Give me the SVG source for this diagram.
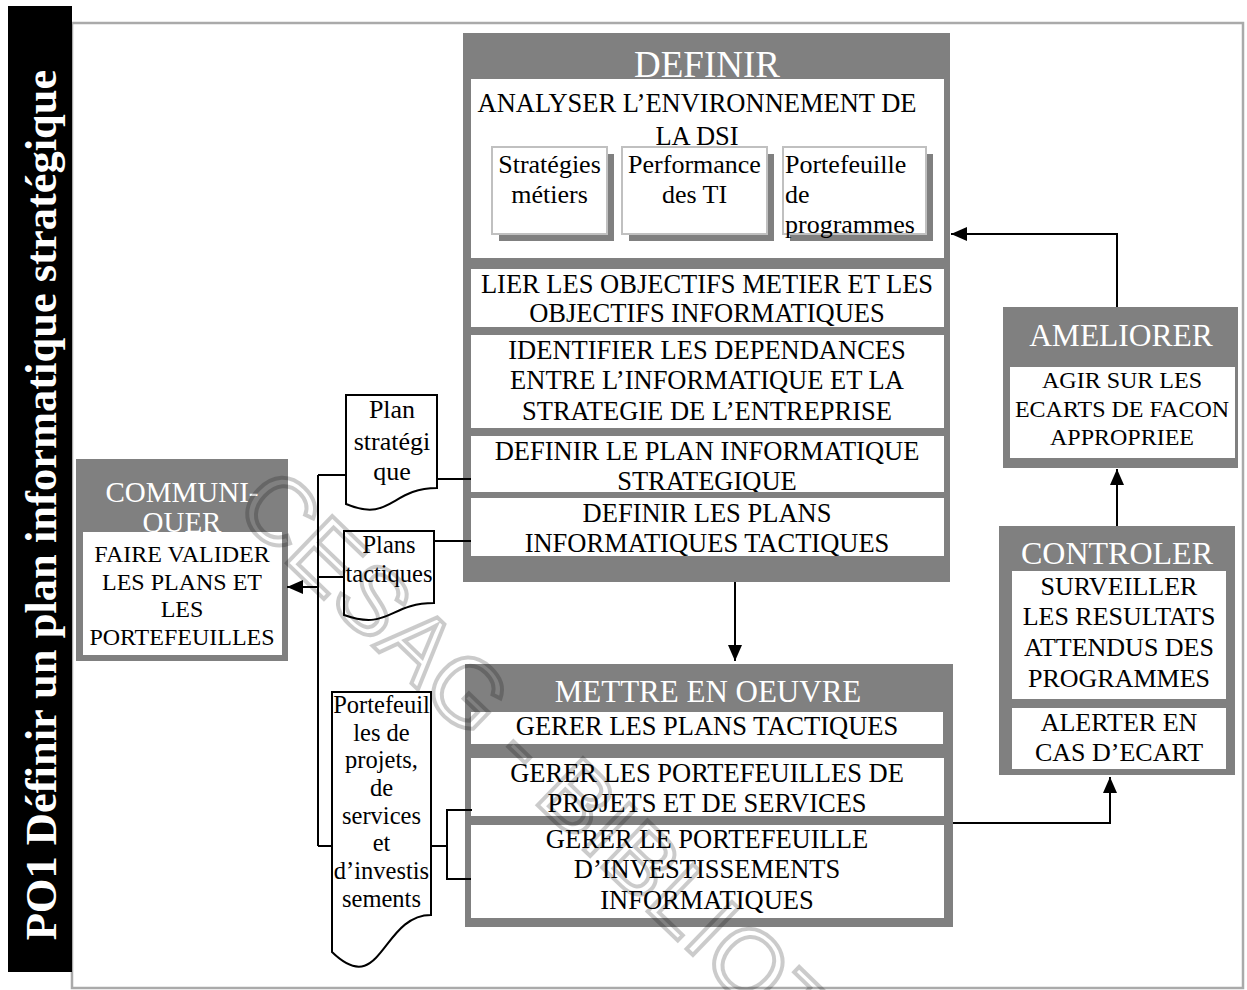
<svg xmlns="http://www.w3.org/2000/svg" width="1247" height="990" viewBox="0 0 1247 990">
  <defs>
    <style>
      .t{font-family:"Liberation Serif","Times New Roman",serif;fill:#000}
      .c{text-anchor:middle}
      .box{fill:#808080}
      .pan{fill:#fff}
      .sub{fill:#fff;stroke:#c0c0c0;stroke-width:2}
      .shd{fill:#808080}
      .ln{fill:none;stroke:#000;stroke-width:2}
      .doc{fill:#fff;stroke:#000;stroke-width:2}
      .f26{font-size:26.5px}
      .f24{font-size:24px}
    </style>
    <marker id="ah" markerUnits="userSpaceOnUse" viewBox="0 0 16 14" markerWidth="16" markerHeight="14" refX="16" refY="7" orient="auto">
      <path d="M0,0 L16,7 L0,14 Z" fill="#000"/>
    </marker>
    <clipPath id="cpB"><rect x="471" y="269" width="473" height="58"/></clipPath>
    <clipPath id="cpC"><rect x="471" y="335" width="473" height="93"/></clipPath>
    <clipPath id="cpD"><rect x="471" y="436" width="473" height="56"/></clipPath>
    <clipPath id="cpE"><rect x="471" y="498" width="473" height="58"/></clipPath>
  </defs>

  <rect width="1247" height="990" fill="#fff"/>

  <!-- page frame and title band -->
  <rect x="72" y="23" width="1171" height="965" fill="none" stroke="#aaaaaa" stroke-width="2.5"/>
  <g id="title">
    <rect x="8" y="6" width="64" height="966" fill="#000"/>
    <text class="t" transform="translate(56,505) rotate(-90)" text-anchor="middle" font-weight="bold" font-size="44.5" style="fill:#fff">PO1 Définir un plan informatique stratégique</text>
  </g>

  <!-- DEFINIR -->
  <g id="definir">
    <rect class="box" x="463" y="33" width="487" height="549"/>
    <text class="t c" x="707" y="77" font-size="37" style="fill:#fff">DEFINIR</text>
    <rect class="pan" x="471" y="79" width="473" height="179"/>
    <text class="t c f26" x="697" y="112">ANALYSER L’ENVIRONNEMENT DE</text>
    <text class="t c f26" x="697" y="145">LA DSI</text>
    <g id="strategies-metiers">
      <rect class="shd" x="499" y="154" width="115" height="87"/>
      <rect class="sub" x="492" y="147" width="115" height="87"/>
      <text class="t c" x="549.5" y="173" font-size="26">Stratégies</text>
      <text class="t c" x="549.5" y="203" font-size="26">métiers</text>
    </g>
    <g id="performance-ti">
      <rect class="shd" x="629" y="154" width="145" height="87"/>
      <rect class="sub" x="622" y="147" width="145" height="87"/>
      <text class="t c" x="694.5" y="173" font-size="26">Performance</text>
      <text class="t c" x="694.5" y="203" font-size="26">des TI</text>
    </g>
    <g id="portefeuille-programmes">
      <rect class="shd" x="790" y="154" width="143" height="87"/>
      <rect class="sub" x="783" y="147" width="143" height="87"/>
      <text class="t" x="785" y="173" font-size="26">Portefeuille</text>
      <text class="t" x="785" y="203" font-size="26">de</text>
      <text class="t" x="785" y="233" font-size="26">programmes</text>
    </g>
    <rect class="pan" x="471" y="269" width="473" height="58"/>
    <g clip-path="url(#cpB)">
      <text class="t c f26" x="707" y="293">LIER LES OBJECTIFS METIER ET LES</text>
      <text class="t c f26" x="707" y="322">OBJECTIFS INFORMATIQUES</text>
    </g>
    <rect class="pan" x="471" y="335" width="473" height="93"/>
    <g clip-path="url(#cpC)">
      <text class="t c f26" x="707" y="359">IDENTIFIER LES DEPENDANCES</text>
      <text class="t c f26" x="707" y="389">ENTRE L’INFORMATIQUE ET LA</text>
      <text class="t c f26" x="707" y="420">STRATEGIE DE L’ENTREPRISE</text>
    </g>
    <rect class="pan" x="471" y="436" width="473" height="56"/>
    <g clip-path="url(#cpD)">
      <text class="t c f26" x="707" y="460">DEFINIR LE PLAN INFORMATIQUE</text>
      <text class="t c f26" x="707" y="490">STRATEGIQUE</text>
    </g>
    <rect class="pan" x="471" y="498" width="473" height="58"/>
    <g clip-path="url(#cpE)">
      <text class="t c f26" x="707" y="522">DEFINIR LES PLANS</text>
      <text class="t c f26" x="707" y="552">INFORMATIQUES TACTIQUES</text>
    </g>
  </g>

  <!-- METTRE EN OEUVRE -->
  <g id="mettre-en-oeuvre">
    <rect class="box" x="465" y="664" width="488" height="263"/>
    <text class="t c" x="708" y="702" font-size="31" style="fill:#fff">METTRE EN OEUVRE</text>
    <rect class="pan" x="471" y="712" width="472" height="32"/>
    <text class="t c f26" x="707" y="735">GERER LES PLANS TACTIQUES</text>
    <rect class="pan" x="471" y="758" width="473" height="58"/>
    <text class="t c f26" x="707" y="782">GERER LES PORTEFEUILLES DE</text>
    <text class="t c f26" x="707" y="812">PROJETS ET DE SERVICES</text>
    <rect class="pan" x="471" y="825" width="473" height="93"/>
    <text class="t c f26" x="707" y="848">GERER LE PORTEFEUILLE</text>
    <text class="t c f26" x="707" y="878">D’INVESTISSEMENTS</text>
    <text class="t c f26" x="707" y="909">INFORMATIQUES</text>
  </g>

  <!-- COMMUNIQUER -->
  <g id="communiquer">
    <rect class="box" x="76" y="459" width="212" height="202"/>
    <text class="t c" x="182" y="502" font-size="29" style="fill:#fff">COMMUNI-</text>
    <text class="t c" x="182" y="532" font-size="29" style="fill:#fff">QUER</text>
    <rect class="pan" x="83" y="532" width="199" height="123"/>
    <text class="t c f24" x="182" y="562">FAIRE VALIDER</text>
    <text class="t c f24" x="182" y="590">LES PLANS ET</text>
    <text class="t c f24" x="182" y="617">LES</text>
    <text class="t c f24" x="182" y="645">PORTEFEUILLES</text>
  </g>

  <!-- AMELIORER -->
  <g id="ameliorer">
    <rect class="box" x="1003" y="307" width="235" height="161"/>
    <text class="t c" x="1121" y="346" font-size="31.5" style="fill:#fff">AMELIORER</text>
    <rect class="pan" x="1010" y="367" width="225" height="91"/>
    <text class="t c f24" x="1122" y="388">AGIR SUR LES</text>
    <text class="t c f24" x="1122" y="417">ECARTS DE FACON</text>
    <text class="t c f24" x="1122" y="445">APPROPRIEE</text>
  </g>

  <!-- CONTROLER -->
  <g id="controler">
    <rect class="box" x="999" y="526" width="236" height="249"/>
    <text class="t c" x="1117" y="564" font-size="32" style="fill:#fff">CONTROLER</text>
    <rect class="pan" x="1012" y="571" width="214" height="128"/>
    <text class="t c" x="1119" y="595" font-size="26">SURVEILLER</text>
    <text class="t c" x="1119" y="625" font-size="26">LES RESULTATS</text>
    <text class="t c" x="1119" y="656" font-size="26">ATTENDUS DES</text>
    <text class="t c" x="1119" y="687" font-size="26">PROGRAMMES</text>
    <rect class="pan" x="1012" y="708" width="214" height="61"/>
    <text class="t c" x="1119" y="731" font-size="26">ALERTER EN</text>
    <text class="t c" x="1119" y="761" font-size="26">CAS D’ECART</text>
  </g>

  <!-- documents -->
  <g id="doc-plan-strategique">
    <path class="doc" d="M346,395 H437 V488 C391,488 391,523 346,504 Z"/>
    <text class="t c" x="392" y="418" font-size="26">Plan</text>
    <text class="t c" x="392" y="450" font-size="26">stratégi</text>
    <text class="t c" x="392" y="480" font-size="26">que</text>
  </g>
  <g id="doc-plans-tactiques">
    <path class="doc" d="M344,531 H434 V603 C389,603 389,631 344,615 Z"/>
    <text class="t c" x="389" y="553" font-size="24.5">Plans</text>
    <text class="t c" x="389" y="582" font-size="24.5">tactiques</text>
  </g>
  <g id="doc-portefeuilles">
    <path class="doc" d="M332,692 H431 V915 C381.5,915 381.5,1000 332,952 Z"/>
    <text class="t c" x="381.5" y="713" font-size="24.5">Portefeuil</text>
    <text class="t c" x="381.5" y="741" font-size="24.5">les de</text>
    <text class="t c" x="381.5" y="768" font-size="24.5">projets,</text>
    <text class="t c" x="381.5" y="796" font-size="24.5">de</text>
    <text class="t c" x="381.5" y="824" font-size="24.5">services</text>
    <text class="t c" x="381.5" y="851" font-size="24.5">et</text>
    <text class="t c" x="381.5" y="879" font-size="24.5">d’investis</text>
    <text class="t c" x="381.5" y="907" font-size="24.5">sements</text>
  </g>

  <!-- connectors -->
  <g id="connectors">
    <path class="ln" d="M318,475 V846"/>
    <path class="ln" d="M318,475 H346"/>
    <path class="ln" d="M437,479 H471"/>
    <path class="ln" d="M318,577 H344"/>
    <path class="ln" d="M434,541 H471"/>
    <path class="ln" d="M318,846 H332"/>
    <path class="ln" d="M431,846 H447"/>
    <path class="ln" d="M472,810 H447 V879 H471"/>
    <path class="ln" d="M318,587 H287" marker-end="url(#ah)"/>
    <path class="ln" d="M735,582 V661" marker-end="url(#ah)"/>
    <path class="ln" d="M953,823 H1110 V777" marker-end="url(#ah)"/>
    <path class="ln" d="M1117,526 V469" marker-end="url(#ah)"/>
    <path class="ln" d="M1117,307 V234 H951" marker-end="url(#ah)"/>
  </g>

  <!-- library stamp -->
  <g id="stamp" opacity="0.2">
    <text transform="translate(232,510) rotate(44)" font-family="Liberation Sans, Arial, sans-serif" font-size="95" fill="none" stroke="#000" stroke-width="4">CESAG - BIBLIOT</text>
  </g>
</svg>
